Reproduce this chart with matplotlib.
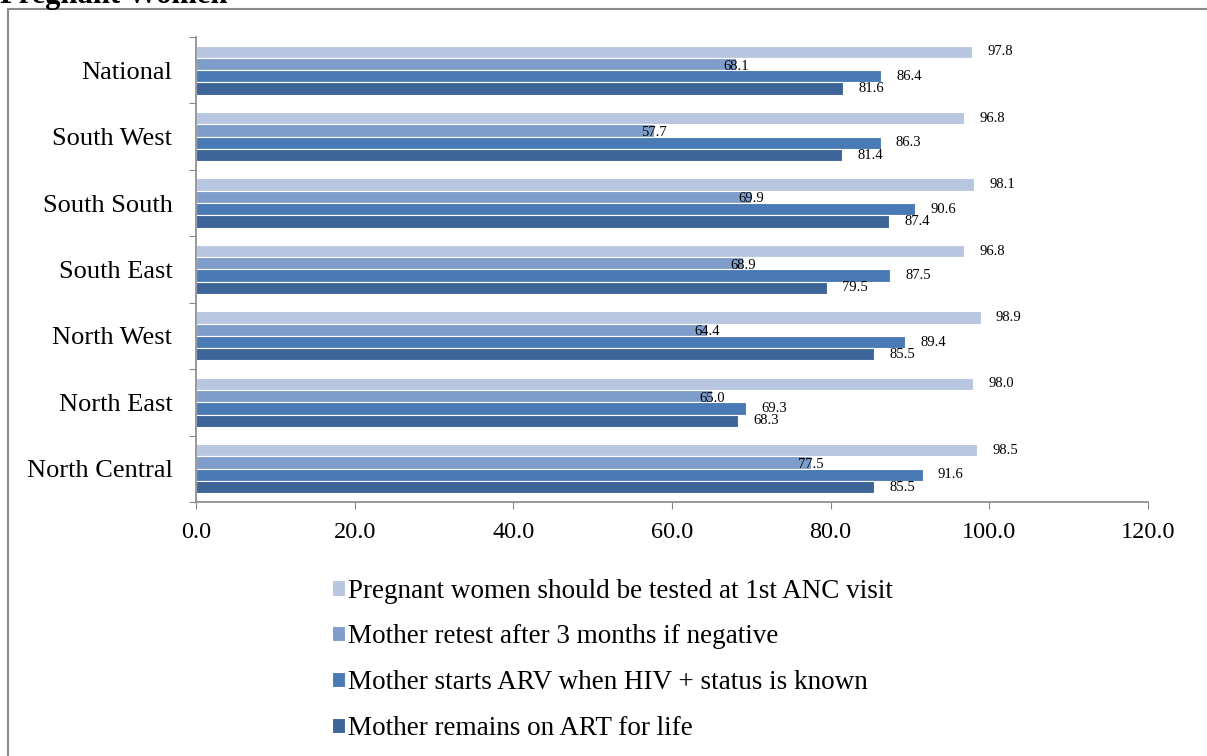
import matplotlib
matplotlib.use("Agg")
import matplotlib.pyplot as plt
from matplotlib.patches import Rectangle
import numpy as np

plt.rcParams["font.family"] = ["Liberation Serif", "DejaVu Serif"]

# Data (top to bottom as shown)
regions = ["National", "South West", "South South", "South East",
           "North West", "North East", "North Central"]
tested_1st_anc = [97.8, 96.8, 98.1, 96.8, 98.9, 98.0, 98.5]
retest_3_months = [68.1, 57.7, 69.9, 68.9, 64.4, 65.0, 77.5]
starts_arv = [86.4, 86.3, 90.6, 87.5, 89.4, 69.3, 91.6]
remains_on_art = [81.6, 81.4, 87.4, 79.5, 85.5, 68.3, 85.5]

series_names = ["Pregnant women should be tested at 1st ANC visit",
                "Mother retest after 3 months if negative",
                "Mother starts ARV when HIV + status is known",
                "Mother remains on ART for life"]
series_vals = [tested_1st_anc, retest_3_months, starts_arv, remains_on_art]
colors = ["#B8C6E1", "#7F9DCA", "#4A7AB5", "#3D6597"]

fig = plt.figure(figsize=(12.07, 7.56), dpi=100)
ax = fig.add_axes([0.1624, 0.336, 0.7887, 0.6151])

y = np.arange(len(regions))
h = 0.185
for i, (vals, col, name) in enumerate(zip(series_vals, colors, series_names)):
    pos = y + (i - 1.5) * h
    ax.barh(pos, vals, height=h, color=col, edgecolor="white",
            linewidth=0.8, label=name)
    for p, v in zip(pos, vals):
        if i == 1:
            ax.annotate(f"{v:.1f}", (v, p), xytext=(-9, -1.5),
                        textcoords="offset points", fontsize=10.5,
                        ha="left", va="center")
        else:
            ax.annotate(f"{v:.1f}", (v, p), xytext=(11, 0),
                        textcoords="offset points", fontsize=10.5,
                        ha="left", va="center")

ax.set_xlim(0, 120)
ax.set_ylim(len(regions) - 0.5, -0.5)
ax.set_xticks(np.arange(0, 121, 20))
ax.set_xticklabels([f"{t:.1f}" for t in np.arange(0, 121, 20)], fontsize=17.5)
ax.tick_params(axis="x", direction="out", length=5, color="#888888", pad=9.5)

ax.set_yticks(np.arange(-0.5, len(regions), 1.0))
ax.set_yticklabels([])
ax.set_yticks(y, minor=True)
ax.set_yticklabels(regions, minor=True, fontsize=19)
ax.tick_params(axis="y", which="major", direction="out", length=5, color="#888888")
ax.tick_params(axis="y", which="minor", length=0, pad=17)

for s in ["top", "right"]:
    ax.spines[s].set_visible(False)
for s in ["left", "bottom"]:
    ax.spines[s].set_color("#888888")
    ax.spines[s].set_linewidth(1.2)

leg = fig.legend(loc="upper left", bbox_to_anchor=(0.266, 0.249), ncol=1,
                 frameon=False, fontsize=19.5, handlelength=0.48,
                 handleheight=0.48, handletextpad=0.12, labelspacing=0.77,
                 borderaxespad=0)

# outer frame (cropped) and cropped title
fig.patches.append(Rectangle((8 / 1207, -0.1), 1.2, 1 - 9 / 756 + 0.1,
                             transform=fig.transFigure, fill=False,
                             edgecolor="#8a8a8a", linewidth=1.5))
fig.text(0.0, 1 - 3 / 756, "Pregnant Women", fontsize=22, fontweight="bold",
         ha="left", va="baseline")

fig.savefig("out.png", dpi=100)
